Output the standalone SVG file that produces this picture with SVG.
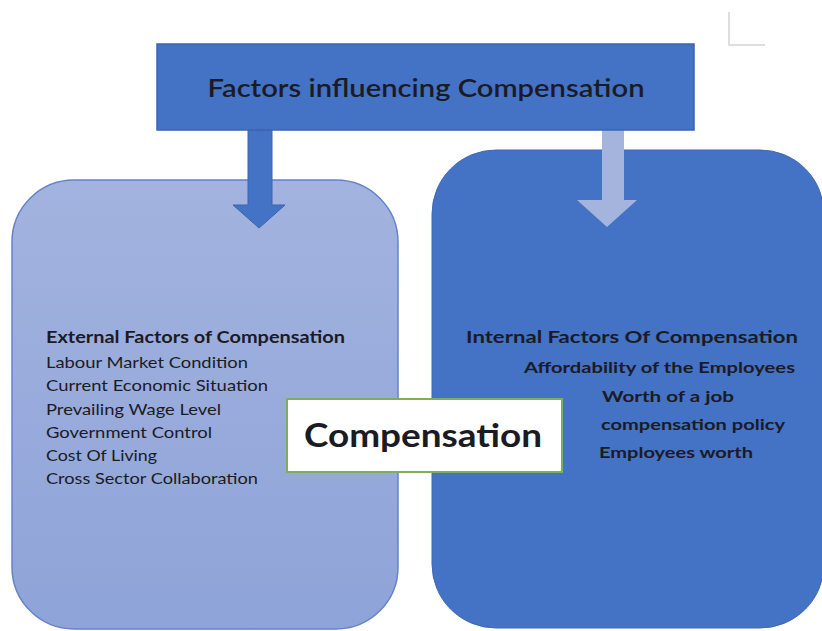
<svg xmlns="http://www.w3.org/2000/svg" width="822" height="631" viewBox="0 0 822 631">
<defs>
<style>
.t{font-family:Lato,"Liberation Sans",sans-serif;fill:#1b1b24}
.b{font-weight:bold}
.ext{font-size:16px}
.int{font-size:16px;font-weight:bold}
</style>
<linearGradient id="lg" x1="0" y1="0" x2="0" y2="1">
<stop offset="0" stop-color="#a3b3df"/>
<stop offset="1" stop-color="#8ea3d8"/>
</linearGradient>
</defs>
<rect width="822" height="631" fill="#ffffff"/>
<g id="corner" stroke="#d4d4d4" stroke-width="1.5" fill="none">
<path d="M729 12 V45 H765"/>
</g>
<g id="external">
<rect x="12" y="180" width="386" height="449" rx="62" ry="62" fill="url(#lg)" stroke="#6683c8" stroke-width="1.5"/>
<text class="t b" x="46" y="343" font-size="17" textLength="299" lengthAdjust="spacingAndGlyphs">External Factors of Compensation</text>
<text class="t ext" x="46" y="368" textLength="202" lengthAdjust="spacingAndGlyphs">Labour Market Condition</text>
<text class="t ext" x="46" y="391" textLength="222" lengthAdjust="spacingAndGlyphs">Current Economic Situation</text>
<text class="t ext" x="46" y="415" textLength="175" lengthAdjust="spacingAndGlyphs">Prevailing Wage Level</text>
<text class="t ext" x="46" y="438" textLength="166" lengthAdjust="spacingAndGlyphs">Government Control</text>
<text class="t ext" x="46" y="461" textLength="111" lengthAdjust="spacingAndGlyphs">Cost Of Living</text>
<text class="t ext" x="46" y="484" textLength="212" lengthAdjust="spacingAndGlyphs">Cross Sector Collaboration</text>
</g>
<g id="internal">
<rect x="432" y="150" width="392" height="478" rx="64" ry="64" fill="#4472c4" stroke="#3f68b5" stroke-width="1"/>
<text class="t b" x="466" y="343" font-size="17" textLength="332" lengthAdjust="spacingAndGlyphs">Internal Factors Of Compensation</text>
<text class="t int" x="524" y="373" textLength="271" lengthAdjust="spacingAndGlyphs">Affordability of the Employees</text>
<text class="t int" x="602" y="402" textLength="132" lengthAdjust="spacingAndGlyphs">Worth of a job</text>
<text class="t int" x="601" y="430" textLength="184" lengthAdjust="spacingAndGlyphs">compensation policy</text>
<text class="t int" x="599" y="458" textLength="154" lengthAdjust="spacingAndGlyphs">Employees worth</text>
</g>
<g id="connectors">
<path d="M248 130 H272 V205 H285 L259 228 L233 205 H248 Z" fill="#4472c4" stroke="#3b64b0" stroke-width="1"/>
<path d="M602 128 H624 V200 H637 L607 227 L577 200 H602 Z" fill="#a5b4dd"/>
</g>
<g id="title">
<rect x="157" y="44" width="537" height="86" fill="#4472c4" stroke="#3b64b0" stroke-width="1.5"/>
<text class="t" x="426" y="97" font-size="25" font-weight="600" text-anchor="middle" textLength="437" lengthAdjust="spacingAndGlyphs">Factors influencing Compensation</text>
</g>
<g id="compensation">
<rect x="287" y="399" width="275" height="73" fill="#ffffff" stroke="#7fae5a" stroke-width="2"/>
<text class="t b" x="423" y="447" font-size="33" text-anchor="middle" fill="#000" textLength="238" lengthAdjust="spacingAndGlyphs">Compensation</text>
</g>
</svg>
